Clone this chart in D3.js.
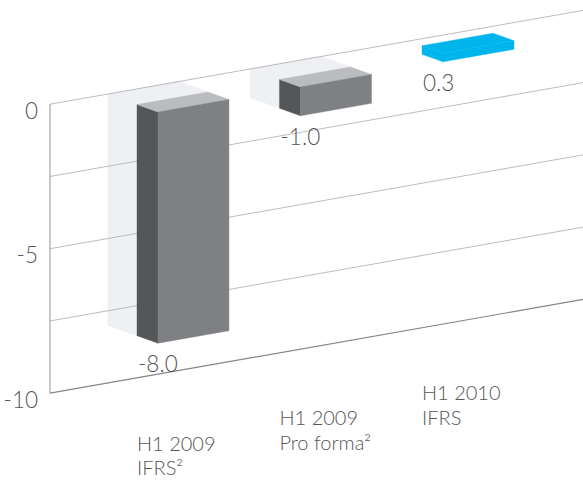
<!DOCTYPE html>
<html>
<head>
<meta charset="utf-8">
<script src="https://cdn.jsdelivr.net/npm/d3@7"></script>
<style>
  html, body { margin: 0; padding: 0; background: #fff; }
  svg text { font-family: Lato, "Open Sans", sans-serif; font-weight: 300; fill: #555658; }
</style>
</head>
<body>
<svg id="chart" width="583" height="482"></svg>
<script>
// Result per period (values), with the period labels split into two lines
const categoryLine1 = ["H1 2009", "H1 2009", "H1 2010"];
const categoryLine2 = ["IFRS²", "Pro forma²", "IFRS"];
const values = [-8.0, -1.0, 0.3];
const valueLabels = ["-8.0", "-1.0", "0.3"];
const gridValues = [0, -2.5, -5, -7.5, -10];
const tickValues = [0, -5, -10];
const tickLabels = ["0", "-5", "-10"];

const width = 583, height = 482;
const svg = d3.select("#chart");

// Oblique 3D projection: horizontal position on the front plane, value, and depth
const slope = -0.176;              // rise of the front plane per pixel
const anchor = { x: 158, y: 112 }; // front-plane zero point of the first band
const FRONT = { dx: 0, dy: 0 };
const BACK = { dx: -21, dy: -7.5 };  // back face of a bar
const WALL = { dx: -50, dy: -18 };   // back wall carrying the grid

const x = d3.scaleBand()
  .domain(d3.range(values.length))
  .range([158, 514])
  .paddingInner(0.502)
  .paddingOuter(0);

const y = d3.scaleLinear().domain([-10, 0]).range([289, 0]);

function P(u, v, depth) {
  return [u + depth.dx, anchor.y + (u - anchor.x) * slope + y(v) + depth.dy];
}
const poly = pts => "M" + pts.map(p => p[0].toFixed(2) + "," + p[1].toFixed(2)).join("L") + "Z";

const bw = x.bandwidth();
const bars = values.map((v, i) => {
  const u0 = x(i), u1 = u0 + bw;
  const vt = Math.max(v, 0), vb = Math.min(v, 0);
  return { i, v, u0, u1, vt, vb };
});

// Light extensions of the negative bars back onto the wall
const ghost = svg.append("g");
bars.filter(b => b.v < 0).forEach(b => {
  const faces = [
    [P(b.u0, b.vt, BACK), P(b.u0, b.vt, WALL), P(b.u0, b.vb, WALL), P(b.u0, b.vb, BACK)],
    [P(b.u0, b.vt, BACK), P(b.u1, b.vt, BACK), P(b.u1, b.vt, WALL), P(b.u0, b.vt, WALL)],
    [P(b.u0, b.vt, WALL), P(b.u1, b.vt, WALL), P(b.u1, b.vb, WALL), P(b.u0, b.vb, WALL)]
  ];
  faces.forEach(f => ghost.append("path").attr("d", poly(f))
    .attr("fill", "#eef0f3").attr("stroke", "#eef0f3").attr("stroke-width", 0.6));
});

// Grid on the back wall
const wallLeft = 50 - WALL.dx; // front-plane coordinate of the wall's left edge
const grid = svg.append("g");
gridValues.forEach(g => {
  const a = P(wallLeft, g, WALL), b = P(width + 60 - WALL.dx, g, WALL);
  grid.append("line")
    .attr("x1", a[0]).attr("y1", a[1]).attr("x2", b[0]).attr("y2", b[1])
    .attr("stroke", g === -10 ? "#858688" : "#b4b5b7")
    .attr("stroke-width", g === -10 ? 1.2 : 0.9);
});
const axTop = P(wallLeft, 0, WALL), axBot = P(wallLeft, -10, WALL);
grid.append("line")
  .attr("x1", axTop[0]).attr("y1", axTop[1]).attr("x2", axBot[0]).attr("y2", axBot[1])
  .attr("stroke", "#9a9b9d").attr("stroke-width", 1.1);

// Value axis labels
tickValues.forEach((t, k) => {
  const p = P(wallLeft, t, WALL);
  svg.append("text").attr("x", p[0] - 12).attr("y", p[1] + 14.5)
    .attr("text-anchor", "end").attr("font-size", 22.5).text(tickLabels[k]);
});

// Bars
const barG = svg.append("g");
bars.forEach(b => {
  const pos = b.v >= 0;
  const cols = pos ? { side: "#00b5eb", front: "#00b5eb", top: "#00b5eb" }
                   : { side: "#555658", front: "#7f8083", top: "#bbbcbe" };
  const side = [P(b.u0, b.vt, FRONT), P(b.u0, b.vt, BACK), P(b.u0, b.vb, BACK), P(b.u0, b.vb, FRONT)];
  const top = [P(b.u0, b.vt, FRONT), P(b.u1, b.vt, FRONT), P(b.u1, b.vt, BACK), P(b.u0, b.vt, BACK)];
  const front = [P(b.u0, b.vt, FRONT), P(b.u1, b.vt, FRONT), P(b.u1, b.vb, FRONT), P(b.u0, b.vb, FRONT)];
  [[side, cols.side], [top, cols.top], [front, cols.front]].forEach(([f, c]) =>
    barG.append("path").attr("d", poly(f)).attr("fill", c).attr("stroke", c).attr("stroke-width", 0.4));

  // value label under the bar
  const lp = P(b.u0, b.vb, FRONT);
  svg.append("text").attr("x", lp[0] + BACK.dx + 1).attr("y", lp[1] + 29)
    .attr("font-size", 22.5).text(valueLabels[b.i]);

  // period label below the floor, two lines
  const cp = P(b.u0, 0, FRONT);
  svg.append("text").attr("x", cp[0] + BACK.dx).attr("y", cp[1] + 338.5)
    .attr("font-size", 20).text(categoryLine1[b.i]);
  svg.append("text").attr("x", cp[0] + BACK.dx).attr("y", cp[1] + 363)
    .attr("font-size", 20).text(categoryLine2[b.i]);
});
</script>
</body>
</html>
